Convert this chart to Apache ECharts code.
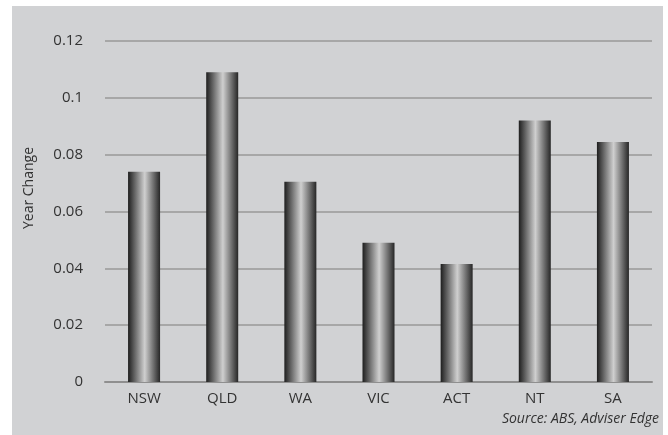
<!DOCTYPE html>
<html>
<head>
<meta charset="utf-8">
<script src="https://cdn.jsdelivr.net/npm/echarts@6/dist/echarts.min.js"></script>
<style>
  html, body { margin: 0; padding: 0; background: #fff; }
  #chart { width: 668px; height: 435px; }
</style>
</head>
<body>
<div id="chart"></div>
<script>
const states = ['NSW', 'QLD', 'WA', 'VIC', 'ACT', 'NT', 'SA']
const yearChange = [0.074, 0.109, 0.0705, 0.049, 0.0415, 0.092, 0.0845]
const sourceNote = 'Source: ABS, Adviser Edge'
const yTitle = 'Year Change'

const chart = echarts.init(document.getElementById('chart'), null, { renderer: 'canvas' })

const barFill = new echarts.graphic.LinearGradient(0, 0, 1, 0, [
  { offset: 0, color: '#1e1e1e' },
  { offset: 0.52, color: '#cfcfcf' },
  { offset: 1, color: '#262626' }
])

chart.setOption({
  backgroundColor: '#fff',
  textStyle: { fontFamily: 'Open Sans' },
  graphic: [
    {
      type: 'rect',
      z: -10,
      shape: { x: 12, y: 6, width: 651, height: 429 },
      style: { fill: '#d1d2d4' }
    },
    {
      type: 'text',
      x: 29,
      y: 188,
      rotation: Math.PI / 2,
      style: {
        text: yTitle,
        font: '14px "Open Sans"',
        fill: '#333',
        align: 'center',
        verticalAlign: 'middle'
      }
    },
    {
      type: 'text',
      right: 9,
      top: 412,
      style: {
        text: sourceNote,
        font: 'italic 14px "Open Sans"',
        fill: '#333'
      }
    }
  ],
  grid: { left: 105, right: 16, top: 41, bottom: 53 },
  xAxis: {
    type: 'category',
    data: states,
    axisLine: { lineStyle: { color: '#8f8f8f', width: 2 } },
    axisTick: { show: false },
    axisLabel: { color: '#333', fontSize: 15, margin: 9 }
  },
  yAxis: {
    type: 'value',
    min: 0,
    max: 0.12,
    interval: 0.02,
    axisLine: { show: false },
    axisTick: { show: false },
    axisLabel: { color: '#333', fontSize: 15, margin: 22 },
    splitLine: { lineStyle: { color: '#999', width: 1.5 } }
  },
  series: [
    {
      type: 'bar',
      data: yearChange,
      barWidth: 32,
      itemStyle: { color: barFill }
    }
  ]
})
</script>
</body>
</html>
